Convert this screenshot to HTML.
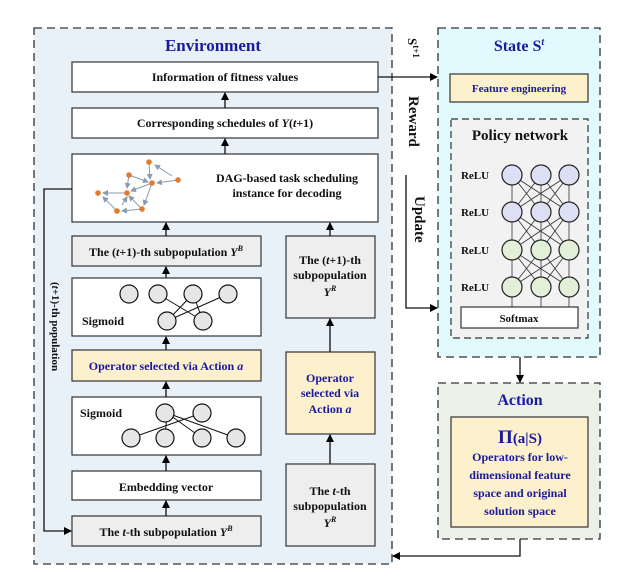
<!DOCTYPE html>
<html><head><meta charset="utf-8"><style>
html,body{margin:0;padding:0;background:#fff}
svg{display:block}
text{font-family:"Liberation Serif",serif;font-weight:bold}
</style></head><body>
<svg width="619" height="582" viewBox="0 0 619 582" xmlns="http://www.w3.org/2000/svg">
<defs>
<marker id="ar" markerWidth="8" markerHeight="8" refX="7" refY="4" orient="auto" markerUnits="userSpaceOnUse">
<path d="M0,0 L8,4 L0,8 z" fill="#000"/></marker>
<marker id="sa" markerWidth="6" markerHeight="6" refX="5" refY="3" orient="auto" markerUnits="userSpaceOnUse">
<path d="M0,0 L6,3 L0,6 z" fill="#8a9ab0"/></marker>
</defs>
<!-- Environment -->
<rect x="34" y="28" width="358" height="536" fill="#e8f0f8" stroke="#333" stroke-width="1.3" stroke-dasharray="8,5"/>
<text x="213" y="51" font-size="17" fill="#1a1a9c" text-anchor="middle">Environment</text>
<g stroke="#333" stroke-width="1.2">
<rect x="72" y="62" width="306" height="30" fill="#fff"/>
<rect x="72" y="108" width="306" height="30" fill="#fff"/>
<rect x="72" y="154" width="306" height="68" fill="#fff"/>
<rect x="72" y="236" width="189" height="30" fill="#eeeeee"/>
<rect x="286" y="236" width="89" height="82" fill="#eeeeee"/>
<rect x="72" y="278" width="189" height="58" fill="#fff"/>
<rect x="72" y="350" width="189" height="31" fill="#fdf0cc"/>
<rect x="72" y="397" width="189" height="58" fill="#fff"/>
<rect x="72" y="471" width="189" height="29" fill="#fff"/>
<rect x="72" y="516" width="189" height="30" fill="#eeeeee"/>
<rect x="286" y="352" width="89" height="82" fill="#fdf0cc"/>
<rect x="286" y="464" width="89" height="82" fill="#eeeeee"/>
</g>
<g font-size="12" fill="#111" text-anchor="middle">
<text x="225" y="81">Information of fitness values</text>
<text x="225" y="127">Corresponding schedules of <tspan font-style="italic">Y</tspan>(<tspan font-style="italic">t</tspan>+1)</text>
<text x="287" y="182">DAG-based task scheduling</text>
<text x="287" y="197">instance for decoding</text>
<text x="166" y="256">The (<tspan font-style="italic">t</tspan>+1)-th subpopulation <tspan font-style="italic">Y</tspan><tspan font-size="8" dy="-5" font-style="italic">B</tspan></text>
<text x="330" y="264">The (<tspan font-style="italic">t</tspan>+1)-th</text>
<text x="330" y="279">subpopulation</text>
<text x="330" y="296" font-style="italic">Y<tspan font-size="8" dy="-5">R</tspan></text>
<text x="166" y="491">Embedding vector</text>
<text x="166" y="536">The <tspan font-style="italic">t</tspan>-th subpopulation <tspan font-style="italic">Y</tspan><tspan font-size="8" dy="-5" font-style="italic">B</tspan></text>
<text x="330" y="495">The <tspan font-style="italic">t</tspan>-th</text>
<text x="330" y="510">subpopulation</text>
<text x="330" y="527" font-style="italic">Y<tspan font-size="8" dy="-5">R</tspan></text>
</g>
<g font-size="12" fill="#1a1a9c" text-anchor="middle">
<text x="166" y="370">Operator selected via Action <tspan font-style="italic">a</tspan></text>
<text x="330" y="382">Operator</text>
<text x="330" y="397">selected via</text>
<text x="330" y="413">Action <tspan font-style="italic">a</tspan></text>
</g>
<!-- Sigmoid nets -->
<g stroke="#111" stroke-width="1">
<line x1="158" y1="294" x2="203" y2="321"/><line x1="193" y1="294" x2="203" y2="321"/><line x1="193" y1="294" x2="167" y2="321"/><line x1="228" y1="294" x2="167" y2="321"/>
<line x1="167" y1="413" x2="202" y2="438"/><line x1="167" y1="413" x2="165" y2="438"/><line x1="202" y1="413" x2="131" y2="438"/><line x1="167" y1="413" x2="236" y2="438"/>
</g>
<g fill="#e6e6e6" stroke="#111" stroke-width="1.2">
<circle cx="129" cy="294" r="9"/><circle cx="158" cy="294" r="9"/><circle cx="193" cy="294" r="9"/><circle cx="228" cy="294" r="9"/>
<circle cx="167" cy="321" r="9"/><circle cx="203" cy="321" r="9"/>
<circle cx="165" cy="413" r="9"/><circle cx="202" cy="413" r="9"/>
<circle cx="131" cy="438" r="9"/><circle cx="165" cy="438" r="9"/><circle cx="202" cy="438" r="9"/><circle cx="236" cy="438" r="9"/>
</g>
<text x="82" y="325" font-size="12" fill="#111">Sigmoid</text>
<text x="80" y="417" font-size="12" fill="#111">Sigmoid</text>
<!-- DAG graph -->
<g stroke="#8a9ab0" stroke-width="1" marker-end="url(#sa)">
<line x1="149" y1="162" x2="150" y2="179"/><line x1="178" y1="180" x2="157" y2="183"/><line x1="152" y1="183" x2="131" y2="191"/>
<line x1="127" y1="193" x2="103" y2="193"/><line x1="129" y1="175" x2="127" y2="188"/><line x1="142" y1="209" x2="129" y2="196"/>
<line x1="142" y1="209" x2="122" y2="211"/><line x1="122" y1="205" x2="127" y2="197"/><line x1="152" y1="183" x2="144" y2="205"/>
<line x1="172" y1="176" x2="155" y2="165"/><line x1="117" y1="211" x2="103" y2="197"/><line x1="129" y1="175" x2="148" y2="182"/>
</g>
<g fill="#e07b30">
<circle cx="149" cy="162" r="2.8"/><circle cx="129" cy="175" r="2.8"/><circle cx="152" cy="183" r="2.8"/><circle cx="178" cy="180" r="2.8"/>
<circle cx="98" cy="193" r="2.8"/><circle cx="127" cy="193" r="2.8"/><circle cx="142" cy="209" r="2.8"/><circle cx="117" cy="211" r="2.8"/>
</g>
<!-- env arrows -->
<g stroke="#111" stroke-width="1.3" fill="none" marker-end="url(#ar)">
<line x1="225" y1="108" x2="225" y2="93"/>
<line x1="225" y1="154" x2="225" y2="139"/>
<line x1="166" y1="236" x2="166" y2="223"/>
<line x1="330" y1="236" x2="330" y2="223"/>
<line x1="166" y1="278" x2="166" y2="267"/>
<line x1="166" y1="350" x2="166" y2="337"/>
<line x1="166" y1="397" x2="166" y2="382"/>
<line x1="166" y1="471" x2="166" y2="456"/>
<line x1="166" y1="516" x2="166" y2="501"/>
<line x1="330" y1="352" x2="330" y2="319"/>
<line x1="330" y1="464" x2="330" y2="435"/>
<polyline points="72,189 44,189 44,531 71,531"/>
<line x1="378" y1="77" x2="437" y2="77"/>
<polyline points="406,175 406,308 437,308"/>
<line x1="520" y1="102" x2="520" y2="118"/>
<line x1="520" y1="328" x2="520" y2="382"/>
<polyline points="520,539 520,556 393,556"/>
</g>
<text transform="translate(52,282) rotate(90)" font-size="11" fill="#111">(<tspan font-style="italic">t</tspan>+1)-th population</text>
<text transform="translate(408,38) rotate(90)" font-size="13" fill="#111">S<tspan font-size="9" dy="-5">t+1</tspan></text>
<text transform="translate(409,96) rotate(90)" font-size="15" fill="#111">Reward</text>
<text transform="translate(415,196) rotate(90)" font-size="15" fill="#111">Update</text>
<!-- State -->
<rect x="438" y="28" width="162" height="329" fill="#e0fafe" stroke="#333" stroke-width="1.3" stroke-dasharray="8,5"/>
<text x="519" y="51" font-size="16" fill="#1a1a9c" text-anchor="middle">State S<tspan font-size="10" dy="-6" font-style="italic">t</tspan></text>
<rect x="450" y="74" width="138" height="28" fill="#fdf0cc" stroke="#333" stroke-width="1.2"/>
<text x="519" y="92" font-size="11" fill="#1a1a9c" text-anchor="middle">Feature engineering</text>
<rect x="451" y="119" width="137" height="219" fill="#f2f2f2" stroke="#333" stroke-width="1.2" stroke-dasharray="7,4"/>
<text x="520" y="140" font-size="15" fill="#111" text-anchor="middle">Policy network</text>
<g stroke="#333" stroke-width="0.8">
<line x1="512" y1="175" x2="541" y2="212"/><line x1="512" y1="175" x2="569" y2="212"/><line x1="541" y1="175" x2="512" y2="212"/><line x1="541" y1="175" x2="569" y2="212"/><line x1="569" y1="175" x2="512" y2="212"/><line x1="569" y1="175" x2="541" y2="212"/>
<line x1="512" y1="212" x2="541" y2="250"/><line x1="512" y1="212" x2="569" y2="250"/><line x1="541" y1="212" x2="512" y2="250"/><line x1="541" y1="212" x2="569" y2="250"/><line x1="569" y1="212" x2="512" y2="250"/><line x1="569" y1="212" x2="541" y2="250"/>
<line x1="512" y1="250" x2="541" y2="287"/><line x1="512" y1="250" x2="569" y2="287"/><line x1="541" y1="250" x2="512" y2="287"/><line x1="541" y1="250" x2="569" y2="287"/><line x1="569" y1="250" x2="512" y2="287"/><line x1="569" y1="250" x2="541" y2="287"/>
<line x1="512" y1="175" x2="512" y2="307"/><line x1="541" y1="175" x2="541" y2="307"/><line x1="569" y1="175" x2="569" y2="307"/>
</g>
<g stroke="#222" stroke-width="1.2">
<g fill="#dde0f4"><circle cx="512" cy="175" r="10"/><circle cx="541" cy="175" r="10"/><circle cx="569" cy="175" r="10"/>
<circle cx="512" cy="212" r="10"/><circle cx="541" cy="212" r="10"/><circle cx="569" cy="212" r="10"/></g>
<g fill="#e2efd9"><circle cx="512" cy="250" r="10"/><circle cx="541" cy="250" r="10"/><circle cx="569" cy="250" r="10"/>
<circle cx="512" cy="287" r="10"/><circle cx="541" cy="287" r="10"/><circle cx="569" cy="287" r="10"/></g>
</g>
<g font-size="11" fill="#111" text-anchor="middle">
<text x="475" y="179">ReLU</text><text x="475" y="216">ReLU</text><text x="475" y="254">ReLU</text><text x="475" y="291">ReLU</text>
</g>
<rect x="461" y="307" width="117" height="21" fill="#fff" stroke="#333" stroke-width="1.2"/>
<text x="519" y="322" font-size="11" fill="#111" text-anchor="middle">Softmax</text>
<!-- Action -->
<rect x="438" y="383" width="162" height="156" fill="#ebf1e6" stroke="#333" stroke-width="1.3" stroke-dasharray="8,5"/>
<text x="520" y="405" font-size="16" fill="#1a1a9c" text-anchor="middle">Action</text>
<rect x="451" y="417" width="137" height="110" fill="#fdf0cc" stroke="#333" stroke-width="1.2"/>
<g fill="#1a1a9c" text-anchor="middle">
<text x="520" y="443" font-size="15"><tspan font-size="19">Π</tspan>(a|S)</text>
<text x="520" y="461" font-size="12">Operators for low-</text>
<text x="520" y="479" font-size="12">dimensional feature</text>
<text x="520" y="497" font-size="12">space and original</text>
<text x="520" y="515" font-size="12">solution space</text>
</g>
</svg>
</body></html>
